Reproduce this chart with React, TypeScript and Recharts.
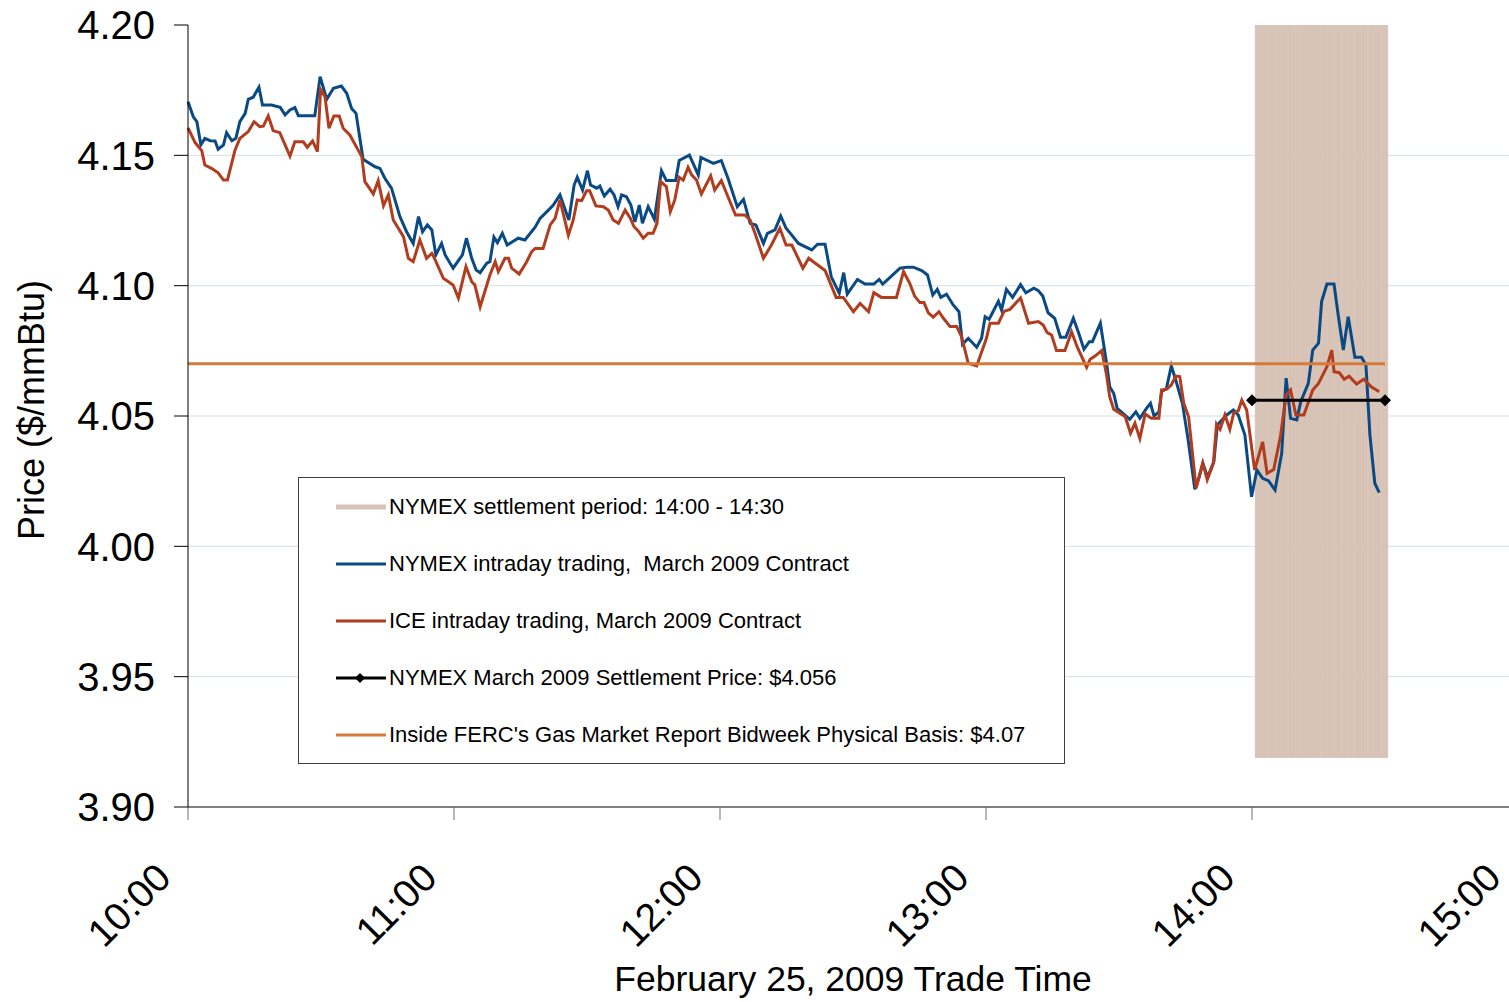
import React from 'react';
import {
  ComposedChart,
  CartesianGrid,
  XAxis,
  YAxis,
  Legend,
  Bar,
  Line,
} from 'recharts';

const FONT = '"Liberation Sans", Arial, sans-serif';

// minutes after 10:00 and prices ($/mmBtu)
const nymexMinutes = [
  0, 1.2, 2, 2.9, 3.8, 5, 6.1, 6.8, 8, 8.7, 9.9, 10.8, 11.7, 12.9, 13.6, 14.7, 16, 16.8, 18.8, 20.8,
  21.9, 23, 24.1, 24.9, 28.6, 29.8, 31.3, 32.8, 34.6, 35.8, 36.9, 37.9, 39.5, 42.2, 43.3, 44.4, 45.9, 47.8, 49.3, 50.8,
  52, 52.9, 54, 55, 55.9, 57.2, 58, 59.8, 61.9, 62.8, 64, 65, 65.9, 67.4, 68.1, 69, 69.8, 70.9, 72, 74.5,
  76, 78.3, 79.4, 81.3, 82.4, 83.9, 85.9, 87.1, 87.8, 89, 90.1, 90.8, 92.2, 92.9, 93.9, 95.2, 96.1, 97, 97.8, 98.9,
  99.9, 100.8, 101.8, 102.5, 103.8, 105.2, 106.8, 107.9, 110, 110.8, 113.1, 115.1, 115.7, 118.5, 120.3, 121.8, 123.9, 125.3, 126.8, 128.1,
  129.8, 130.7, 132.4, 133.7, 134.9, 136.2, 137.7, 140.7, 142, 143.7, 145.1, 146.9, 147.9, 148.7, 151, 152.7, 154.7, 155.9, 156.7, 158.3,
  160.6, 162.1, 163.6, 165.5, 166.8, 168, 169, 169.8, 171.1, 172.6, 173.9, 174.7, 176, 177.9, 179, 179.8, 180.7, 182.8, 183.5, 184.6,
  186, 187.8, 189, 190.8, 191.8, 192.8, 194, 195.5, 196.8, 198, 199.7, 200.8, 202.1, 203.3, 204, 205.8, 207.2, 207.9, 208.8, 209.6,
  210.9, 212.4, 213.8, 214.7, 216.2, 217.1, 217.9, 219, 219.6, 220.7, 221.8, 222.8, 224.3, 225.6, 227.1, 228.1, 228.9, 230, 231.4, 232.2,
  234.3, 235.8, 236.9, 238.4, 239.9, 241.1, 242.4, 243.7, 245.2, 246.7, 247.7, 248.7, 250.1, 251, 252.7, 253.7, 255, 255.7, 256.9, 258.5,
  259.5, 260.6, 261.7, 263.2, 264.7, 265.7, 266.6, 267.7, 268.7,
];
const nymexPrices = [
  4.1706, 4.1648, 4.1629, 4.154, 4.1565, 4.1556, 4.1555, 4.1523, 4.154, 4.1587, 4.1556, 4.1565, 4.1629, 4.1661, 4.1715, 4.1723, 4.1761, 4.1693, 4.1693, 4.1684,
  4.1655, 4.1674, 4.1683, 4.1652, 4.1652, 4.1802, 4.1715, 4.1757, 4.1766, 4.1738, 4.168, 4.1661, 4.1485, 4.1456, 4.145, 4.1412, 4.1374, 4.1265, 4.1207, 4.1162,
  4.1265, 4.1207, 4.1233, 4.1214, 4.1118, 4.1162, 4.1118, 4.1067, 4.1118, 4.1182, 4.1105, 4.106, 4.105, 4.1086, 4.1092, 4.1186, 4.1165, 4.1201, 4.1156, 4.1182,
  4.1175, 4.1224, 4.1258, 4.129, 4.1309, 4.1348, 4.1252, 4.1386, 4.1416, 4.1367, 4.1441, 4.1386, 4.1374, 4.1382, 4.1344, 4.137, 4.1348, 4.1303, 4.1348, 4.1341,
  4.1309, 4.1245, 4.1309, 4.1239, 4.1303, 4.1255, 4.1441, 4.1403, 4.1403, 4.148, 4.1501, 4.1425, 4.1492, 4.1469, 4.148, 4.1412, 4.1303, 4.1331, 4.1239, 4.1233,
  4.1162, 4.1201, 4.1214, 4.1267, 4.122, 4.1194, 4.1162, 4.1137, 4.1159, 4.1159, 4.1034, 4.0971, 4.105, 4.0968, 4.1024, 4.1006, 4.1006, 4.1024, 4.1006, 4.1031,
  4.1067, 4.1071, 4.1071, 4.1058, 4.1041, 4.0964, 4.0986, 4.0955, 4.0967, 4.0926, 4.09, 4.0775, 4.0798, 4.0764, 4.0798, 4.0881, 4.0871, 4.094, 4.0907, 4.0986,
  4.0955, 4.1004, 4.0973, 4.099, 4.0981, 4.096, 4.0896, 4.0875, 4.0802, 4.0802, 4.0875, 4.0823, 4.0756, 4.0785, 4.0785, 4.0856, 4.0702, 4.0612, 4.0587, 4.0529,
  4.051, 4.0487, 4.0516, 4.0491, 4.0529, 4.0549, 4.05, 4.0516, 4.0593, 4.0606, 4.0692, 4.0638, 4.0549, 4.0408, 4.0219, 4.0267, 4.0319, 4.0265, 4.0325, 4.0466,
  4.0504, 4.0523, 4.0504, 4.0427, 4.019, 4.0293, 4.0261, 4.0252, 4.0216, 4.0357, 4.0645, 4.0491, 4.0485, 4.0555, 4.0625, 4.0753, 4.0779, 4.0939, 4.1006, 4.1006,
  4.0881, 4.0753, 4.0881, 4.0725, 4.0725, 4.0696, 4.0427, 4.0242, 4.0206,
];

const iceMinutes = [
  0, 1, 1.6, 3.1, 3.8, 5.3, 6.8, 8, 8.9, 10.6, 11.7, 13.6, 14.9, 16.2, 17, 18.1, 19.2, 20.7, 23, 24.1,
  26, 26.9, 28.1, 29.2, 29.9, 30.9, 31.8, 32.9, 34.1, 35, 36.5, 39.2, 39.9, 41.8, 42.9, 44.1, 45.2, 46.3, 48.6, 49.7,
  50.8, 52.3, 53.8, 55, 55.6, 57.6, 59.8, 61, 62.7, 64, 64.7, 65.9, 68.1, 69.3, 70, 71.5, 72.3, 73, 74.7, 76.4,
  77.5, 78.3, 80.1, 81.7, 82.8, 83.9, 85.8, 86.9, 87.8, 88.8, 89.9, 90.6, 92, 93.7, 94.8, 95.9, 97.1, 98.6, 99.8, 100.6,
  101.5, 102.7, 103.8, 104.9, 105.8, 106.6, 107.9, 108.8, 109.8, 110.8, 111.7, 112.8, 113.6, 114.7, 115.8, 117.9, 118.8, 120.3, 121.8, 123.5,
  125.6, 126.8, 127.9, 129.8, 131.6, 133.5, 134.9, 136.2, 138.7, 140, 141.5, 143.7, 144.9, 146.2, 147.8, 150.1, 151.6, 153.5, 154.7, 156.4,
  159.8, 161.4, 162.8, 163.9, 165.1, 166, 167, 168.1, 169.4, 170.4, 171.9, 173.4, 174.5, 176, 177.9, 180.1, 180.9, 182.8, 184.1, 185.4,
  187.8, 189.6, 191.8, 192.9, 193.8, 194.8, 195.9, 197.8, 199.3, 200.6, 202.7, 203.5, 204.6, 206.1, 207.2, 207.9, 208.8, 211.4, 212.6, 213.6,
  214.7, 215.9, 217.3, 219, 219.6, 220.7, 221.8, 222.8, 223.7, 224.6, 225.7, 227.4, 228.9, 229.9, 231.3, 232, 232.8, 233.9, 235, 235.9,
  236.9, 237.7, 238.8, 240.6, 242.4, 243.4, 244.9, 246.4, 247.7, 248.7, 249.9, 251.7, 253.7, 255, 256.9, 258, 258.5, 259.7, 260.8, 261.9,
  263.6, 265.2, 266.9, 268.7,
];
const icePrices = [
  4.1605, 4.157, 4.1549, 4.1518, 4.1463, 4.145, 4.1433, 4.1405, 4.1405, 4.152, 4.1565, 4.1591, 4.1629, 4.161, 4.1612, 4.1651, 4.1595, 4.1587, 4.1497, 4.1552,
  4.1552, 4.1531, 4.1555, 4.1514, 4.1753, 4.1725, 4.1604, 4.1651, 4.1651, 4.1604, 4.1578, 4.1495, 4.1399, 4.1352, 4.1403, 4.1307, 4.1348, 4.1252, 4.1188, 4.1105,
  4.1092, 4.1175, 4.1105, 4.1124, 4.1105, 4.1028, 4.1003, 4.0952, 4.1073, 4.1015, 4.1003, 4.0919, 4.1041, 4.1092, 4.1054, 4.1105, 4.1105, 4.1067, 4.1045, 4.1092,
  4.113, 4.1143, 4.1143, 4.1233, 4.1258, 4.1329, 4.1194, 4.1252, 4.1329, 4.1326, 4.1364, 4.1364, 4.1306, 4.1303, 4.129, 4.1252, 4.1239, 4.129, 4.1258, 4.1226,
  4.1211, 4.1182, 4.1201, 4.1201, 4.1239, 4.1399, 4.138, 4.1284, 4.1329, 4.1416, 4.1405, 4.1454, 4.1425, 4.1405, 4.1352, 4.1421, 4.1367, 4.1403, 4.1341, 4.1271,
  4.1271, 4.1252, 4.1201, 4.1105, 4.1156, 4.122, 4.1156, 4.1156, 4.1067, 4.1105, 4.1086, 4.1058, 4.1009, 4.0955, 4.0955, 4.09, 4.0932, 4.09, 4.0973, 4.0955,
  4.0955, 4.1054, 4.1009, 4.096, 4.0935, 4.0935, 4.0896, 4.0879, 4.09, 4.0875, 4.0843, 4.0843, 4.0804, 4.0702, 4.0692, 4.0798, 4.0856, 4.0856, 4.0902, 4.0909,
  4.0953, 4.0856, 4.0862, 4.0849, 4.082, 4.0811, 4.0751, 4.0751, 4.0823, 4.0764, 4.0687, 4.0718, 4.073, 4.0751, 4.0657, 4.0574, 4.0526, 4.0497, 4.0434, 4.0472,
  4.0414, 4.0508, 4.0491, 4.0491, 4.06, 4.0602, 4.0619, 4.0653, 4.0651, 4.0549, 4.0497, 4.0223, 4.0319, 4.0255, 4.0319, 4.0469, 4.0449, 4.0504, 4.0449, 4.0513,
  4.052, 4.0561, 4.0523, 4.0293, 4.0401, 4.028, 4.0295, 4.042, 4.058, 4.06, 4.0504, 4.0504, 4.06, 4.0625, 4.0689, 4.0753, 4.067, 4.0666, 4.0641, 4.0653,
  4.0623, 4.0641, 4.0612, 4.0593,
];

// 14:00 - 14:30 settlement period, drawn as thin columns
const settlementMinutes = [
  241.5, 243, 244.5, 246, 247.5, 249, 250.5, 252, 253.5, 255,
  256.5, 258, 259.5, 261, 262.5, 264, 265.5, 267, 268.5, 270,
];
const settlementBand = [3.919, 4.2];

const settlementSpan = [240, 270];
const settlementPrice = 4.056;
const fercSpan = [0, 270];
const fercPrice = 4.07;

const timeTicks = [0, 60, 120, 180, 240, 300];
const timeLabels = ['10:00', '11:00', '12:00', '13:00', '14:00', '15:00'];
const priceTicks = [3.9, 3.95, 4.0, 4.05, 4.1, 4.15, 4.2];
const gridPrices = [3.95, 4.0, 4.05, 4.1, 4.15];

const STYLE: Record<string, { color: string; width: number }> = {
  band: { color: '#d8c3b7', width: 5 },
  nymex: { color: '#0a4a84', width: 3 },
  ice: { color: '#b23c1e', width: 3 },
  settle: { color: '#000000', width: 3 },
  ferc: { color: '#d67a3a', width: 3 },
};
const legendOrder = ['band', 'nymex', 'ice', 'settle', 'ferc'];

const settlementRows = settlementMinutes.map((t) => ({ t, band: settlementBand }));
const nymexRows = nymexMinutes.map((t, i) => ({ t, nymex: nymexPrices[i] }));
const iceRows = iceMinutes.map((t, i) => ({ t, ice: icePrices[i] }));
const settleRows = settlementSpan.map((t) => ({ t, settle: settlementPrice }));
const fercRows = fercSpan.map((t) => ({ t, ferc: fercPrice }));

function diamond(cx: number, cy: number, r: number) {
  return `M${cx} ${cy - r}L${cx + r} ${cy}L${cx} ${cy + r}L${cx - r} ${cy}Z`;
}

function DiamondDot(props: any) {
  const { cx, cy, index } = props;
  if (cx == null || cy == null) return null;
  return <path key={`dm-${index}`} d={diamond(cx, cy, 6)} fill="#000" />;
}

function TimeTick(props: any) {
  const { x, y, payload } = props;
  const ax = x - 15;
  const ay = y + 58;
  const label = timeLabels[timeTicks.indexOf(payload.value)];
  return (
    <text
      x={ax}
      y={ay}
      transform={`rotate(-45 ${ax} ${ay})`}
      textAnchor="end"
      fontSize={39}
      fontFamily={FONT}
      fill="#000"
    >
      {label}
    </text>
  );
}

function XTitle(props: any) {
  const vb = props.viewBox;
  return (
    <text x={vb.x + vb.width / 2} y={vb.y + 184} textAnchor="middle" fontSize={35.5} fontFamily={FONT} fill="#000">
      February 25, 2009 Trade Time
    </text>
  );
}

function YTitle(props: any) {
  const vb = props.viewBox;
  const cx = 44;
  const cy = vb.y + vb.height / 2 - 6;
  return (
    <text x={cx} y={cy} transform={`rotate(-90 ${cx} ${cy})`} textAnchor="middle" fontSize={36} fontFamily={FONT} fill="#000">
      Price ($/mmBtu)
    </text>
  );
}

function LegendBox(props: any) {
  const items = [...(props.payload || [])].sort(
    (a: any, b: any) => legendOrder.indexOf(a.dataKey) - legendOrder.indexOf(b.dataKey)
  );
  return (
    <div
      style={{
        boxSizing: 'border-box',
        width: 767,
        height: 287,
        border: '1px solid #404040',
        background: '#fff',
        paddingLeft: 37,
        fontFamily: FONT,
        fontSize: 22,
        color: '#000',
      }}
    >
      {items.map((it: any) => {
        const s = STYLE[it.dataKey] || { color: it.color, width: 3 };
        return (
          <div key={it.dataKey} style={{ height: 57.2, display: 'flex', alignItems: 'center' }}>
            <svg width={50} height={14} style={{ flex: 'none' }}>
              <line x1={0} x2={50} y1={7} y2={7} stroke={s.color} strokeWidth={s.width} />
              {it.dataKey === 'settle' && <path d={diamond(24, 7, 5)} fill="#000" />}
            </svg>
            <span style={{ marginLeft: 3, whiteSpace: 'pre' }}>{it.value}</span>
          </div>
        );
      })}
    </div>
  );
}

export default function App() {
  return (
    <div style={{ position: 'absolute', left: 0, top: 0, width: 1509, height: 1002, overflow: 'hidden', background: '#fff' }}>
      <ComposedChart
        width={1530}
        height={1002}
        data={settlementRows}
        margin={{ top: 25, right: 12, bottom: 0, left: 0 }}
        style={{ fontFamily: FONT }}
      >
        <CartesianGrid vertical={false} horizontalValues={gridPrices} stroke="#d3e0e4" strokeWidth={1} />
        <XAxis
          type="number"
          dataKey="t"
          domain={[0, 300]}
          ticks={timeTicks}
          interval={0}
          height={195}
          tickSize={13}
          tickLine={{ stroke: '#707070' }}
          axisLine={{ stroke: '#000' }}
          tick={<TimeTick />}
          label={{ content: <XTitle /> }}
        />
        <XAxis xAxisId="band" type="number" dataKey="t" domain={[0, 300]} hide />
        <YAxis
          type="number"
          domain={[3.9, 4.2]}
          ticks={priceTicks}
          interval={0}
          allowDataOverflow
          width={188}
          tickSize={14}
          tickMargin={19}
          tickLine={{ stroke: '#000' }}
          axisLine={{ stroke: '#000' }}
          tick={{ fill: '#000', fontSize: 40, fontFamily: FONT }}
          tickFormatter={(v: number) => v.toFixed(2)}
          label={{ content: <YTitle /> }}
        />
        <Legend
          layout="vertical"
          align="center"
          verticalAlign="middle"
          wrapperStyle={{ left: 298, top: 477, width: 767, height: 287 }}
          content={<LegendBox />}
        />
        <Bar
          xAxisId="band"
          dataKey="band"
          name="NYMEX settlement period: 14:00 - 14:30"
          fill={STYLE.band.color}
          stroke={STYLE.band.color}
          strokeWidth={1}
          barSize={7}
          isAnimationActive={false}
        />
        <Line
          data={nymexRows}
          dataKey="nymex"
          name="NYMEX intraday trading,  March 2009 Contract"
          type="linear"
          stroke={STYLE.nymex.color}
          strokeWidth={STYLE.nymex.width}
          dot={false}
          isAnimationActive={false}
        />
        <Line
          data={iceRows}
          dataKey="ice"
          name="ICE intraday trading, March 2009 Contract"
          type="linear"
          stroke={STYLE.ice.color}
          strokeWidth={STYLE.ice.width}
          dot={false}
          isAnimationActive={false}
        />
        <Line
          data={settleRows}
          dataKey="settle"
          name="NYMEX March 2009 Settlement Price: $4.056"
          type="linear"
          stroke={STYLE.settle.color}
          strokeWidth={STYLE.settle.width}
          dot={<DiamondDot />}
          isAnimationActive={false}
        />
        <Line
          data={fercRows}
          dataKey="ferc"
          name="Inside FERC's Gas Market Report Bidweek Physical Basis: $4.07"
          type="linear"
          stroke={STYLE.ferc.color}
          strokeWidth={STYLE.ferc.width}
          dot={false}
          isAnimationActive={false}
        />
      </ComposedChart>
    </div>
  );
}
